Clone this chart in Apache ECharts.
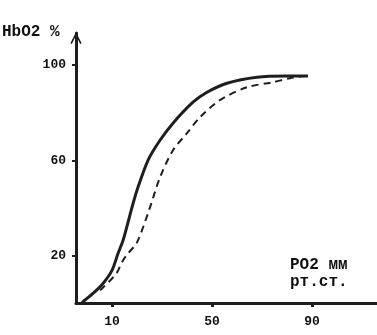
<!DOCTYPE html>
<html>
<head>
<meta charset="utf-8">
<script src="https://cdn.jsdelivr.net/npm/echarts@6/dist/echarts.min.js"></script>
<style>
  html, body { margin: 0; padding: 0; background: #fff; }
  #chart { width: 377px; height: 335px; }
</style>
</head>
<body>
<div id="chart"></div>
<script>
// tick labels
const xTicks = [10, 50, 90]
const yTicks = [20, 60, 100]

// solid curve
const po2Solid = [-2.0, 2.4, 6.4, 10.0, 12.4, 14.4, 16.4, 18.0, 20.0, 24.4, 29.2, 34.4, 42.4, 48.0, 56.0, 68.0, 80.0, 88.4]
const hbSolid = [0.2, 4.0, 8.2, 13.7, 20.8, 26.3, 33.9, 40.2, 47.4, 60.0, 68.4, 75.6, 84.4, 88.6, 92.4, 94.9, 95.4, 95.4]

// dashed curve
const po2Dashed = [5.2, 6.4, 10.4, 12.0, 14.4, 16.4, 20.0, 25.2, 29.2, 34.4, 40.0, 45.2, 53.2, 64.0, 74.4, 81.2, 87.2]
const hbDashed = [5.3, 6.5, 10.7, 12.8, 17.9, 20.8, 25.5, 40.2, 52.8, 64.2, 71.4, 78.1, 85.3, 90.7, 92.8, 94.5, 95.4]

const zip = (xs, ys) => xs.map((x, i) => [x, ys[i]])

const ink = '#1e1e1e'
const font = 'Liberation Mono'

const chart = echarts.init(document.getElementById('chart'))
chart.setOption({
  animation: false,
  backgroundColor: '#fff',
  grid: { left: 76, right: 0, top: 33, bottom: 32 },
  xAxis: {
    type: 'value',
    min: -4.4,
    max: 116,
    splitLine: { show: false },
    axisLine: { onZero: false, lineStyle: { color: ink, width: 3 } },
    axisTick: { customValues: xTicks, length: 4, lineStyle: { color: ink, width: 3 } },
    axisLabel: {
      customValues: xTicks,
      margin: 12,
      color: '#111',
      fontFamily: font,
      fontWeight: 'bold',
      fontSize: 13
    }
  },
  yAxis: {
    type: 'value',
    min: 0,
    max: 113.5,
    splitLine: { show: false },
    axisLine: {
      show: true,
      onZero: false,
      symbol: ['none', 'path://M0,12 L6,0 L12,12 L10.4,12.8 L6,3.6 L1.6,12.8 Z'],
      symbolSize: [12, 12],
      symbolOffset: [0, -5],
      lineStyle: { color: ink, width: 3 }
    },
    axisTick: { customValues: yTicks, length: 4, lineStyle: { color: ink, width: 2 } },
    axisLabel: {
      customValues: yTicks,
      margin: 10,
      color: '#111',
      fontFamily: font,
      fontWeight: 'bold',
      fontSize: 13
    }
  },
  graphic: [
    {
      type: 'text', left: 2, top: 24,
      style: { text: 'HbO2 %', fill: '#111', font: 'bold 16px "Liberation Mono"' }
    },
    {
      type: 'text', left: 290, top: 256,
      style: { text: 'PO2 мм\nрт.ст.', fill: '#111', font: 'bold 16px "Liberation Mono"', lineHeight: 17 }
    }
  ],
  series: [
    {
      name: 'solid',
      type: 'line',
      smooth: 0.3,
      showSymbol: false,
      lineStyle: { color: ink, width: 3 },
      data: zip(po2Solid, hbSolid)
    },
    {
      name: 'dashed',
      type: 'line',
      smooth: 0.3,
      showSymbol: false,
      lineStyle: { color: ink, width: 2, type: [7, 5] },
      data: zip(po2Dashed, hbDashed)
    }
  ]
})
</script>
</body>
</html>
